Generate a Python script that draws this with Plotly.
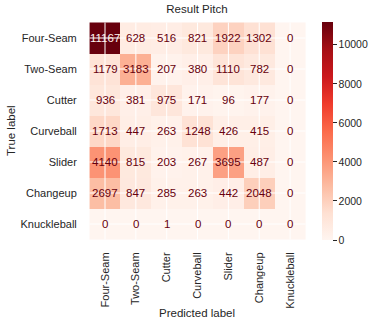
import plotly.graph_objects as go

labels = ["Four-Seam", "Two-Seam", "Cutter", "Curveball", "Slider", "Changeup", "Knuckleball"]
row_four_seam = [11167, 628, 516, 821, 1922, 1302, 0]
row_two_seam = [1179, 3183, 207, 380, 1110, 782, 0]
row_cutter = [936, 381, 975, 171, 96, 177, 0]
row_curveball = [1713, 447, 263, 1248, 426, 415, 0]
row_slider = [4140, 815, 203, 267, 3695, 487, 0]
row_changeup = [2697, 847, 285, 263, 442, 2048, 0]
row_knuckleball = [0, 0, 1, 0, 0, 0, 0]
matrix = [row_four_seam, row_two_seam, row_cutter, row_curveball,
          row_slider, row_changeup, row_knuckleball]
cbar_ticks = [0, 2000, 4000, 6000, 8000, 10000]

reds = ["#fff5f0", "#fee0d2", "#fcbba1", "#fc9272", "#fb6a4a",
        "#ef3b2c", "#cb181d", "#a50f15", "#67000d"]
scale = [[i / (len(reds) - 1), c] for i, c in enumerate(reds)]

zmax = max(max(r) for r in matrix)
zmin = min(min(r) for r in matrix)
thresh = (zmax + zmin) / 2

FONT = "Liberation Sans, Arial, sans-serif"
TXT = "#262626"

fig = go.Figure(go.Heatmap(
    z=matrix, x=labels, y=labels, colorscale=scale, zmin=zmin, zmax=zmax,
    xgap=0, ygap=0, hoverinfo="skip",
    colorbar=dict(
        thickness=11, lenmode="fraction", len=1, x=1.073, xanchor="left",
        xpad=0, ypad=0, y=0, yanchor="bottom", outlinewidth=0, tickvals=cbar_ticks,
        ticktext=[str(t) for t in cbar_ticks],
        ticks="outside", ticklen=4, tickcolor=TXT,
        tickfont=dict(family=FONT, size=10.5, color=TXT),
    ),
))

n = len(labels)
for i in range(n):
    fig.add_shape(type="line", xref="x", yref="y", x0=i, x1=i, y0=-0.5, y1=n - 0.5,
                  line=dict(color="white", width=1), layer="above")
    fig.add_shape(type="line", xref="x", yref="y", y0=i, y1=i, x0=-0.5, x1=n - 0.5,
                  line=dict(color="white", width=1), layer="above")

for r, row in enumerate(matrix):
    for c, v in enumerate(row):
        fig.add_annotation(x=labels[c], y=labels[r], text=str(v), showarrow=False,
                           font=dict(family=FONT, size=11.5,
                                     color=reds[0] if v > thresh else reds[-1]))

# axis titles
fig.add_annotation(text="True label", xref="paper", yref="paper", x=-0.353, y=0.5,
                   textangle=-90, showarrow=False, xanchor="center", yanchor="middle",
                   font=dict(family=FONT, size=11.5, color=TXT))
fig.add_annotation(text="Predicted label", xref="paper", yref="paper", x=0.5, y=-0.335,
                   showarrow=False, xanchor="center", yanchor="middle",
                   font=dict(family=FONT, size=11.5, color=TXT))

fig.update_layout(
    width=379, height=325,
    margin=dict(l=88, r=73, t=22, b=85, autoexpand=False),
    paper_bgcolor="white", plot_bgcolor="white",
    font=dict(family=FONT, size=11, color=TXT),
    title=dict(text="Result Pitch", x=0.5, xref="paper", xanchor="center",
               y=0.972, yref="container", yanchor="middle",
               font=dict(family=FONT, size=11.5, color=TXT)),
    xaxis=dict(automargin=False,
               tickangle=-90, ticks="outside", ticklen=7, tickcolor="rgba(0,0,0,0)",
               showgrid=False, zeroline=False, tickfont=dict(size=11)),
    yaxis=dict(automargin=False,
               autorange="reversed", ticks="outside", ticklen=8,
               tickcolor="rgba(0,0,0,0)", showgrid=False, zeroline=False,
               tickfont=dict(size=11)),
)

fig.write_html("out.html")
